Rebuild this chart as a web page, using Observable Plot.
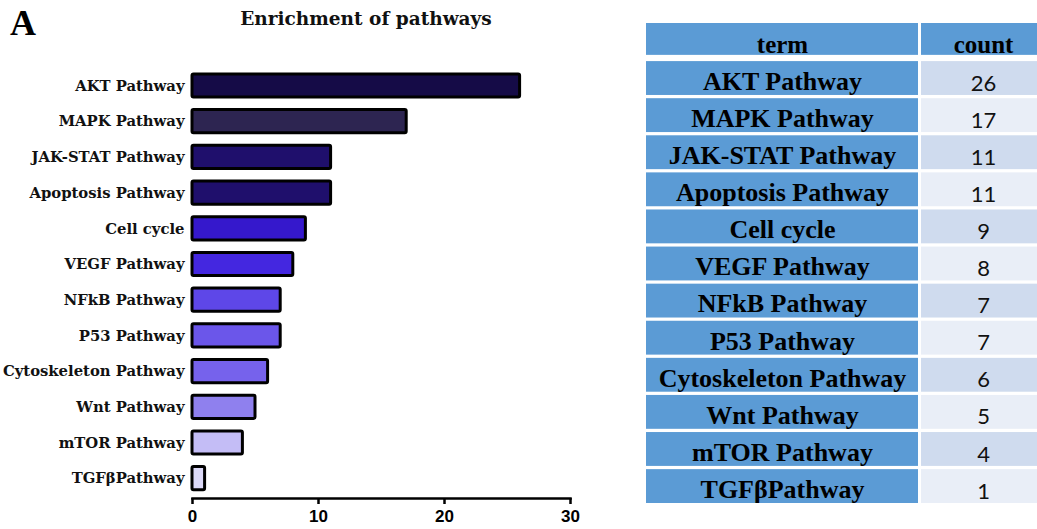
<!DOCTYPE html>
<html><head><meta charset="utf-8">
<script src="https://cdn.jsdelivr.net/npm/d3@7"></script>
<script src="https://cdn.jsdelivr.net/npm/@observablehq/plot@0.6"></script>
<style>
html,body{margin:0;padding:0;background:#fff;overflow:hidden;}
#wrap{position:relative;width:1037px;height:529px;overflow:hidden;background:#fff;}
#wrap > *{position:absolute;}
#panel{left:10px;top:5px;font-family:"Liberation Serif",serif;font-weight:bold;font-size:36px;line-height:1;color:#000;}
#title{left:166px;width:400px;top:10px;text-align:center;font-family:"DejaVu Serif",serif;font-weight:bold;font-size:18.5px;line-height:1;color:#111;}
</style></head><body><div id="wrap"></div>
<script>
const terms = ["AKT Pathway","MAPK Pathway","JAK-STAT Pathway","Apoptosis Pathway","Cell cycle","VEGF Pathway","NFkB Pathway","P53 Pathway","Cytoskeleton Pathway","Wnt Pathway","mTOR Pathway","TGFβPathway"];
const counts = [26,17,11,11,9,8,7,7,6,5,4,1];
const xTicks = [0,10,20,30];
const xDomain = [0,30];
const barColors = ["#150b47","#2d2551","#1f0f6c","#1f0f6c","#3518cc","#4427e0","#5e47e8","#6b56ea","#7662ec","#8f80ee","#c4bdf6","#dcd9f8"];
const titleText = "Enrichment of pathways";
const panelLabel = "A";
const headers = ["term","count"];

const data = terms.map((t,i)=>({term:t, count:counts[i]}));
const wrap = document.getElementById("wrap");

const panel = document.createElement("div"); panel.id="panel"; panel.textContent = panelLabel;
const title = document.createElement("div"); title.id="title"; title.textContent = titleText;

const chart = Plot.plot({
  width: 600, height: 529,
  marginLeft: 192, marginRight: 30, marginTop: 65.7, marginBottom: 31,
  x: {domain: xDomain, ticks: xTicks, label: null},
  y: {domain: terms, paddingInner: 0.35, paddingOuter: 0.23, round: false, label: null},
  color: {domain: terms, range: barColors},
  style: {background: "transparent", overflow: "visible"},
  marks: [
    Plot.barX(data, {x: "count", y: "term", fill: "term", stroke: "black", strokeWidth: 3, rx: 1.5}),
    Plot.frame({anchor: "bottom", stroke: "black", strokeWidth: 2.5}),
    Plot.axisX({ticks: xTicks, tickSize: 6, tickPadding: 5, strokeWidth: 2.5, fontFamily: "Liberation Sans", fontWeight: "bold", fontSize: 17, fill: "black", label: null}),
    Plot.axisY({tickSize: 0, tickPadding: 8, fontFamily: "DejaVu Serif", fontWeight: "bold", fontSize: 14.8, fill: "#111", label: null})
  ]
});
chart.style.left = "0px"; chart.style.top = "0px";

const tableRows = [{term: headers[0], count: headers[1], header: true}]
  .concat(data.map(d => ({term: d.term, count: String(d.count), header: false})));
tableRows.forEach((d,i) => d.row = i);
const headRows = tableRows.filter(d => d.header);
const bodyRows = tableRows.filter(d => !d.header);
const rowDomain = tableRows.map(d => d.row);

const blue = "#5b9bd5";
function column(field, width, bodyFill, bodyText) {
  return Plot.plot({
    width, height: 529,
    marginTop: 23, marginBottom: 26, marginLeft: 0, marginRight: 0,
    y: {domain: rowDomain, paddingInner: 0.06, paddingOuter: 0, round: false, axis: null},
    color: {type: "identity"},
    style: {background: "transparent"},
    marks: [
      Plot.cell(headRows, {y: "row", fill: blue, insetBottom: 3}),
      Plot.cell(bodyRows, {y: "row", fill: bodyFill, insetTop: 1}),
      Plot.text(headRows, {y: "row", text: field, fontFamily: "Liberation Serif", fontWeight: "bold", fontSize: 25, fill: "#000", dy: 4}),
      Plot.text(bodyRows, {y: "row", text: field, fill: "#000", ...bodyText})
    ]
  });
}
const termCol = column("term", 272, blue, {fontFamily: "Liberation Serif", fontWeight: "bold", fontSize: 26, dy: 3.5});
const countCol = column("count", 124, d => d.row % 2 === 1 ? "#cfdbee" : "#e9eef7", {fontFamily: "Lato", fontSize: 22, dy: 5.5, fill: "#111"});
termCol.style.left = "646px"; termCol.style.top = "0px";
countCol.style.left = "921px"; countCol.style.top = "0px";

wrap.append(chart, termCol, countCol, panel, title);
</script></body></html>
